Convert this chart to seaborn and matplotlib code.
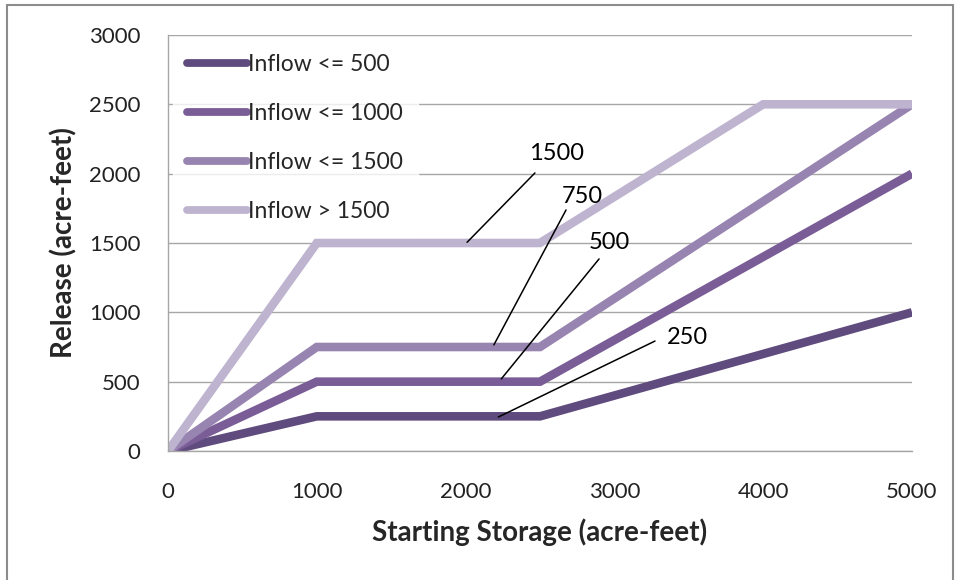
##############################################################################
#### Reservoir release rule curves
##############################################################################
import pandas as pd
import numpy as np
import seaborn as sns
import matplotlib.pyplot as plt
from matplotlib.patches import Rectangle

###########
# Data
storage_low = [0, 1000, 2500, 5000]
release_500 = [0, 250, 250, 1000]
release_1000 = [0, 500, 500, 2000]
release_1500 = [0, 750, 750, 2500]
storage_high = [0, 1000, 2500, 4000, 5000]
release_high = [0, 1500, 1500, 2500, 2500]

series_names = ["Inflow <= 500", "Inflow <= 1000", "Inflow <= 1500", "Inflow > 1500"]
series_colors = ["#5f4b7d", "#7a5c96", "#9884b0", "#beb4cf"]

# callout labels: (label, point on line, end of leader, text position)
callout_labels = ["1500", "750", "500", "250"]
callout_points = [(2010, 1505), (2190, 765), (2240, 520), (2220, 245)]
callout_ends = [(2466, 2005), (2675, 1738), (2897, 1385), (3273, 793)]
callout_text = [(2614, 2142), (2782, 1832), (2964, 1507), (3488, 815)]

###########
# Long-form table for seaborn
frames = []
for name, xs, ys in zip(series_names,
                        [storage_low, storage_low, storage_low, storage_high],
                        [release_500, release_1000, release_1500, release_high]):
    frames.append(pd.DataFrame({"Storage": xs, "Release": ys, "Series": name}))
df = pd.concat(frames, ignore_index=True)

sns.set_theme(style="white")
plt.rcParams['font.family'] = ['Lato', 'DejaVu Sans']

fig = plt.figure(figsize=(9.61, 5.8), dpi=100)
ax = fig.add_axes([0.1748, 0.2224, 0.7742, 0.7173])

sns.lineplot(data=df, x="Storage", y="Release", hue="Series", hue_order=series_names,
             palette=series_colors, sort=False, estimator=None, linewidth=6.2, ax=ax)
for line in ax.get_lines():
    line.set_solid_capstyle('butt')
    line.set_solid_joinstyle('miter')

# leader lines and labels
for lab, p, e, t in zip(callout_labels, callout_points, callout_ends, callout_text):
    ax.plot([p[0], e[0]], [p[1], e[1]], color="black", linewidth=1.1, zorder=5)
    ax.text(t[0], t[1], lab, ha="center", va="center", fontsize=17, color="black")

ax.set_xlim(0, 5000)
ax.set_ylim(0, 3000)
ax.set_xticks(np.arange(0, 5001, 1000))
ax.set_yticks(np.arange(0, 3001, 500))
ax.yaxis.grid(True, color="#a6a6a6", linewidth=1)
ax.set_axisbelow(True)
for side in ["top", "right"]:
    ax.spines[side].set_visible(False)
for side in ["left", "bottom"]:
    ax.spines[side].set_color("#a6a6a6")
    ax.spines[side].set_linewidth(1)
ax.tick_params(axis="both", which="major", direction="out", length=6, width=1,
               color="#a6a6a6", labelsize=16, labelcolor="#222222")
ax.tick_params(axis="x", pad=16)
ax.tick_params(axis="y", pad=14)

ax.set_xlabel("Starting Storage (acre-feet)", fontsize=20, fontweight="bold", labelpad=12)
ax.set_ylabel("Release (acre-feet)", fontsize=20, fontweight="bold", labelpad=8)

leg = ax.legend(loc="upper left", frameon=True, fontsize=16.5, handlelength=2.6,
                handletextpad=0.05, labelspacing=1.22, borderaxespad=0.2,
                borderpad=0.65, fancybox=False)
leg.get_frame().set_facecolor("white")
leg.get_frame().set_edgecolor("white")
for h in leg.get_lines():
    h.set_linewidth(5.6)
    h.set_solid_capstyle('round')

# outer chart border
fig.patches.append(Rectangle((0.0073, -0.05), 0.984, 0.991 + 0.05, transform=fig.transFigure,
                             fill=False, edgecolor="#8c8c8c", linewidth=1.5))

plt.savefig("out.png", dpi=100)
